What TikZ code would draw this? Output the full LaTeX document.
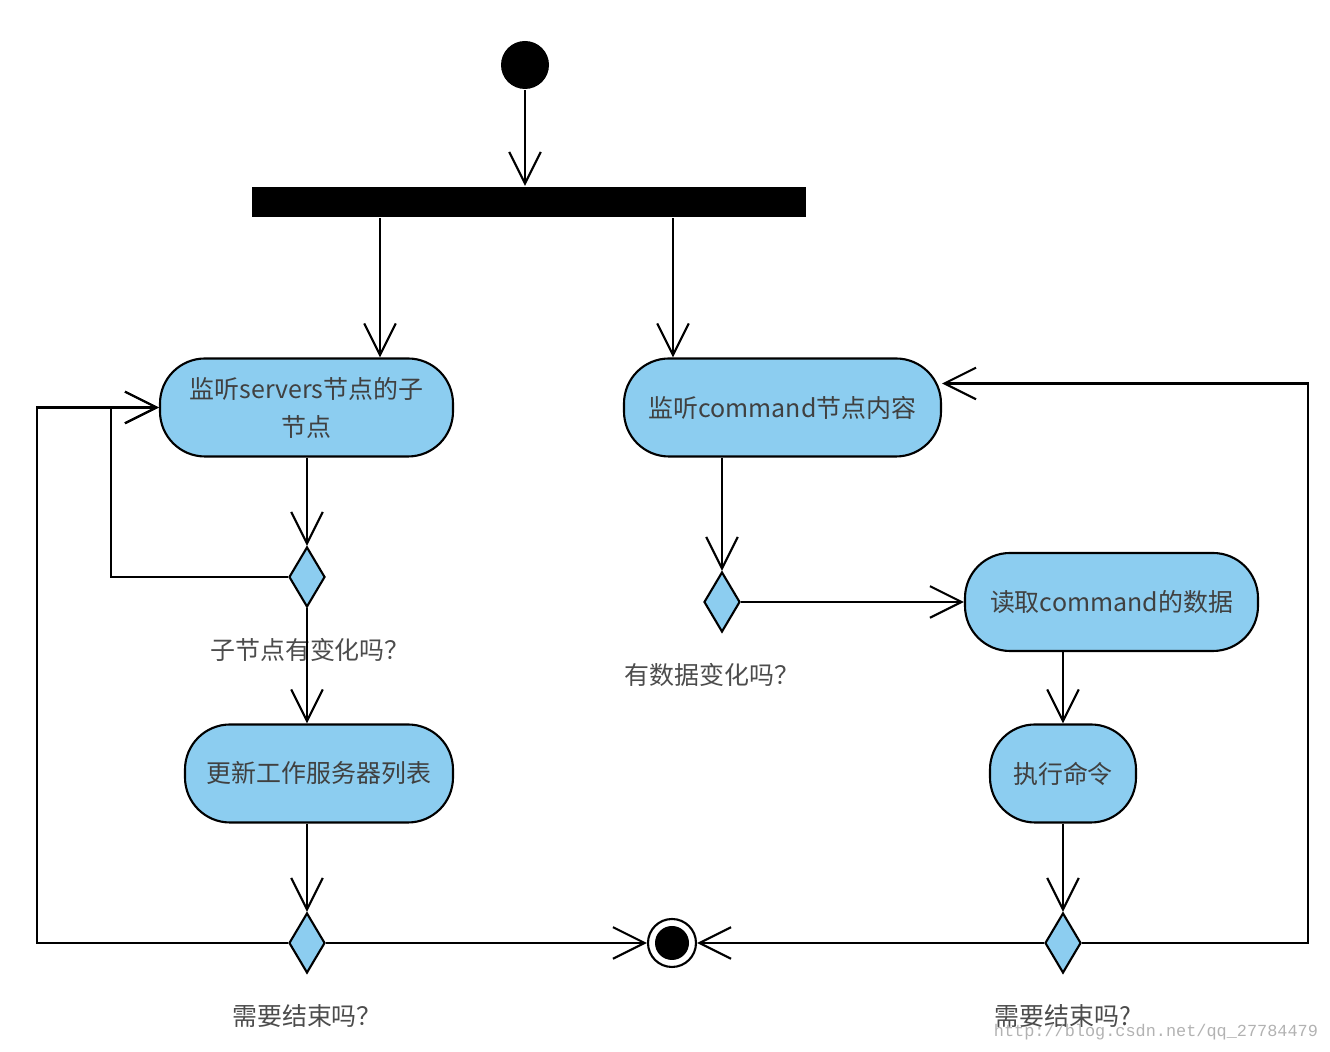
\documentclass[tikz,border=0pt]{standalone}
\usepackage{fontspec}
\setmainfont{Noto Sans CJK SC}
\newfontfamily\urlfont{Liberation Mono}
\usetikzlibrary{positioning,shapes.geometric,arrows.meta}
\definecolor{actblue}{RGB}{140,205,240}

\begin{document}
\begin{tikzpicture}[>={Straight Barb[length=9pt,width=9pt]}, line width=0.6pt,
    act/.style={rectangle, rounded corners=0.45cm, draw, fill=actblue, minimum height=0.98cm, text=black!75, font=\fontsize{7.1}{10.8}\selectfont, align=center},
    choice/.style={diamond, draw, fill=actblue, minimum width=0.36cm, minimum height=0.6cm, inner sep=0pt},
    lbl/.style={text=black!70, inner sep=0pt, font=\fontsize{7.1}{9}\selectfont}]
  \useasboundingbox (0,0) rectangle (13.3,-10.52);

  \node[circle, fill=black, minimum size=0.48cm, inner sep=0pt] (start) at (5.25,-0.65) {};
  \node[fill=black, minimum width=5.54cm, minimum height=0.3cm, inner sep=0pt] (bar) at (5.29,-2.02) {};
  \node[act, minimum width=2.93cm] (1) at (3.065,-4.075) {监听servers节点的子\\节点};
  \node[act, minimum width=3.17cm] (2) at (7.825,-4.075) {监听command节点内容};
  \node[choice] (3) at (3.07,-5.77) {};
  \node[act, minimum width=2.68cm] (4) at (3.19,-7.735) {更新工作服务器列表};
  \node[choice] (5) at (3.07,-9.43) {};
  \node[circle, draw, minimum size=0.48cm, inner sep=0pt,
    path picture={\fill (path picture bounding box.center) circle (0.17cm);}] (6) at (6.72,-9.43) {};
  \node[choice] (7) at (7.22,-6.02) {};
  \node[act, minimum width=2.93cm] (8) at (11.115,-6.02) {读取command的数据};
  \node[act, minimum width=1.46cm] (9) at (10.63,-7.735) {执行命令};
  \node[choice] (10) at (10.63,-9.43) {};

  \node[lbl, below=0.29cm of 3, xshift=0.03cm] (l3) {子节点有变化吗？};
  \node[lbl, below=0.29cm of 7, xshift=-0.1cm] (l7) {有数据变化吗？};
  \node[lbl, below=0.29cm of 5] (l5) {需要结束吗？};
  \node[lbl, below=0.29cm of 10] (l10) {需要结束吗?};
  \node[text=black!30, inner sep=0pt, anchor=east, font=\urlfont\fontsize{4.8}{6}\selectfont] (wm) at (13.19,-10.32) {http://blog.csdn.net/qq\_27784479};

  \draw[->] (start) -- (start |- bar.north);
  \draw[->] ([xshift=0.735cm]1.north |- bar.south) -- ([xshift=0.735cm]1.north);
  \draw[->] ([xshift=-1.095cm]2.north |- bar.south) -- ([xshift=-1.095cm]2.north);
  \foreach \source/\dest/\col in {1/3/3, 3/4/3, 4/5/5, 2/7/7, 8/9/9, 9/10/10}
    \draw[->] (\col |- \source.south) -- (\col |- \dest.north);
  \foreach \source/\dest in {7.east/8.west, 5.east/6.west, 10.west/6.east}
    \draw[->] (\source) -- (\dest);

  \draw[->] (3.west) -- ++(-1.77,0) |- (1.west);
  \draw[->] (5.west) -- ++(-2.51,0) |- (1.west);
  \draw[->] (10.east) -- ++(2.26,0) |- ([yshift=0.24cm]2.east);
\end{tikzpicture}
\end{document}
